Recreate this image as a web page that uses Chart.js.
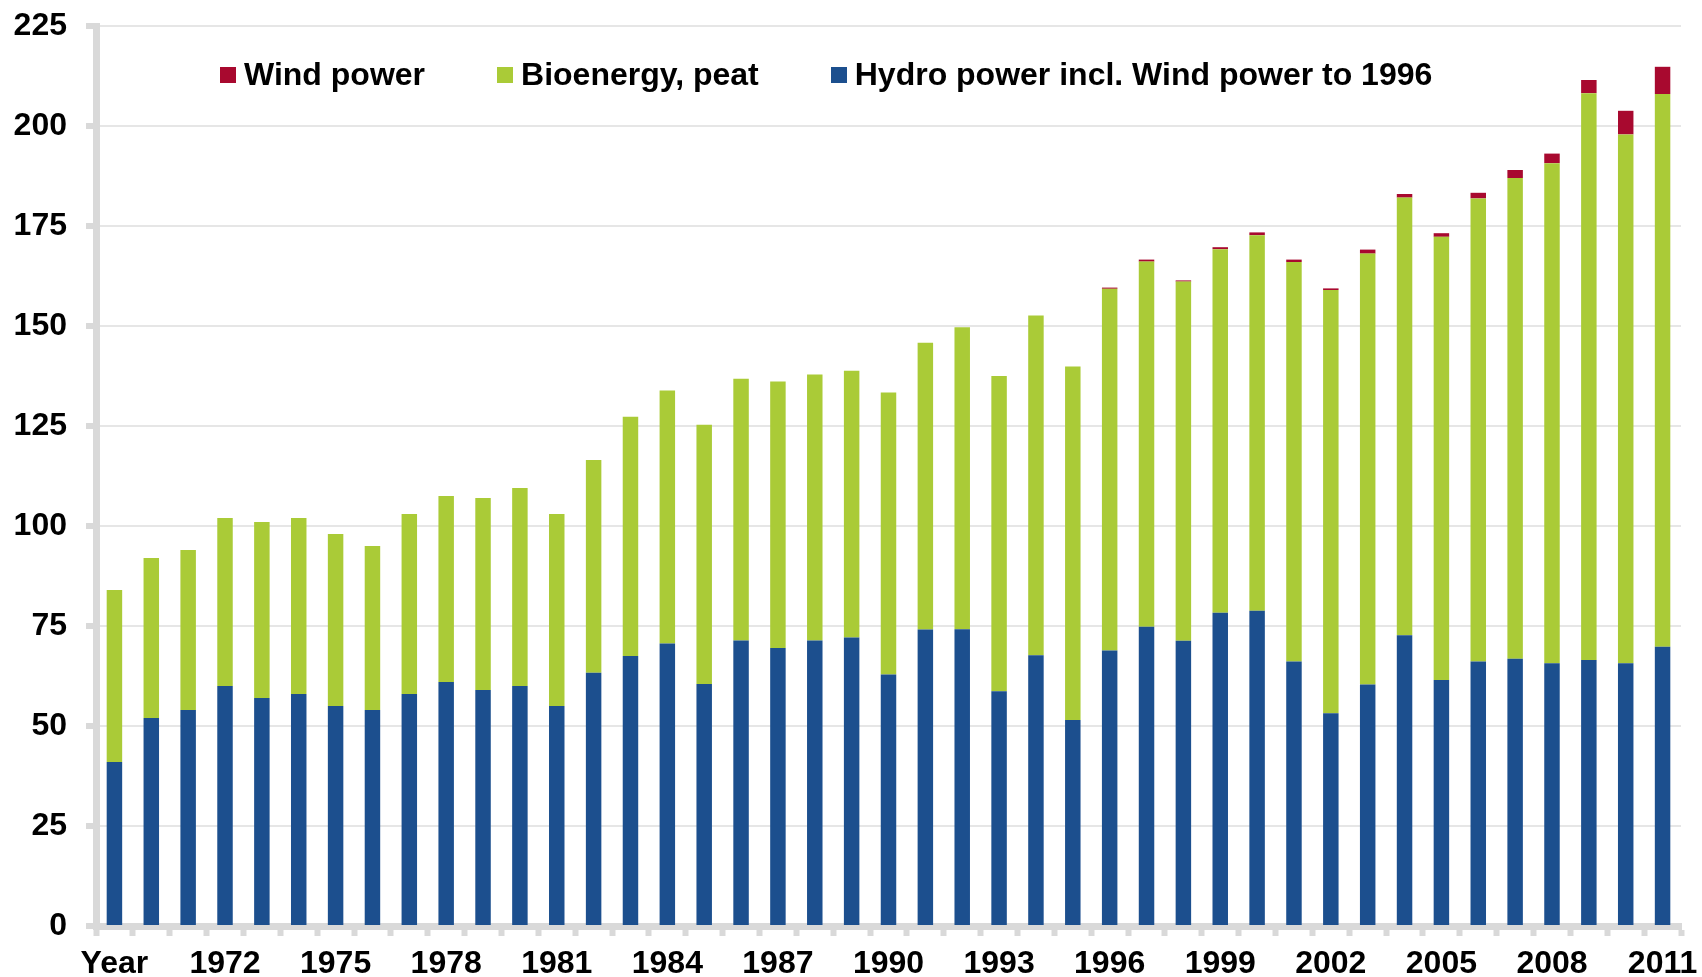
<!DOCTYPE html>
<html>
<head>
<meta charset="utf-8">
<script src="https://cdn.jsdelivr.net/npm/chart.js@4.4.1/dist/chart.umd.min.js"></script>
<style>
  html, body { margin: 0; padding: 0; background: #fff; }
  #wrap { position: relative; width: 1702px; height: 977px; }
  #legend {
    position: absolute; left: 220px; top: 56px; display: flex; align-items: center;
    font-family: "Liberation Sans", Arial, sans-serif; font-weight: bold; font-size: 32px; color: #000;
  }
  #legend .item { display: flex; align-items: center; margin-right: 72px; }
  #legend .box { width: 16px; height: 16px; margin-right: 8px; }
</style>
</head>
<body>
<div id="wrap">
  <canvas id="chart" width="1702" height="977"></canvas>
  <div id="legend"></div>
</div>
<script>
// data
const years = [1969, 1970, 1971, 1972, 1973, 1974, 1975, 1976, 1977, 1978, 1979, 1980, 1981,
  1982, 1983, 1984, 1985, 1986, 1987, 1988, 1989, 1990, 1991, 1992, 1993, 1994, 1995,
  1996, 1997, 1998, 1999, 2000, 2001, 2002, 2003, 2004, 2005, 2006, 2007, 2008, 2009, 2010, 2011];

const tickLabels = ['Year', '', '', '1972', '', '', '1975', '', '', '1978', '', '', '1981',
  '', '', '1984', '', '', '1987', '', '', '1990', '', '', '1993', '', '',
  '1996', '', '', '1999', '', '', '2002', '', '', '2005', '', '', '2008', '', '', '2011'];

const hydro = [41, 52, 54, 60, 57, 58, 55, 54, 58, 61, 59, 60, 55,
  63.3, 67.5, 70.6, 60.5, 71.4, 69.5, 71.4, 72.1, 62.9, 74.1, 74.2, 58.7, 67.7, 51.5,
  68.9, 74.8, 71.3, 78.3, 78.8, 66.1, 53.2, 60.4, 72.7, 61.5, 66.1, 66.8, 65.7, 66.5, 65.7, 69.8];

const bio = [43, 40, 40, 42, 44, 44, 43, 41, 45, 46.5, 48, 49.5, 48,
  53.2, 59.8, 63.3, 64.8, 65.4, 66.6, 66.5, 66.7, 70.5, 71.7, 75.5, 78.8, 84.9, 88.4,
  90.4, 91.3, 89.8, 90.9, 93.9, 99.9, 105.8, 107.7, 109.4, 110.8, 115.8, 120.2, 125.0, 141.7, 132.2, 138.2];

const wind = [0, 0, 0, 0, 0, 0, 0, 0, 0, 0, 0, 0, 0,
  0, 0, 0, 0, 0, 0, 0, 0, 0, 0, 0, 0, 0, 0,
  0.3, 0.5, 0.3, 0.5, 0.7, 0.6, 0.4, 1.0, 0.9, 0.9, 1.4, 2.0, 2.4, 3.3, 5.9, 6.8];

const yTicks = [0, 25, 50, 75, 100, 125, 150, 175, 200, 225];

const seriesNames = ['Hydro power incl. Wind power to 1996', 'Bioenergy, peat', 'Wind power'];
const colors = ['#1c4f8e', '#aacb37', '#a8092f'];

const axisGray = '#d9d9d9';
const font = { family: '"Liberation Sans", Arial, sans-serif', size: 32, weight: 'bold', lineHeight: 1.0 };

new Chart(document.getElementById('chart'), {
  type: 'bar',
  data: {
    labels: years.map(String),
    datasets: [
      { label: seriesNames[0], data: hydro, backgroundColor: colors[0] },
      { label: seriesNames[1], data: bio, backgroundColor: colors[1] },
      { label: seriesNames[2], data: wind, backgroundColor: colors[2] }
    ]
  },
  options: {
    responsive: false,
    animation: false,
    datasets: { bar: { barPercentage: 0.42, categoryPercentage: 1, borderWidth: 0 } },
    layout: { padding: { left: 14, right: 21, top: 26, bottom: 0 } },
    plugins: { legend: { display: false }, tooltip: { enabled: false } },
    scales: {
      x: {
        stacked: true,
        afterFit: s => { s.height = 51; s.paddingLeft = 0; s.paddingRight = 0; },
        grid: { offset: true, drawOnChartArea: false, drawTicks: true, tickLength: 10, tickColor: axisGray, tickWidth: 6 },
        border: { color: axisGray, width: 7 },
        ticks: {
          autoSkip: false, maxRotation: 0, minRotation: 0, padding: 12, color: '#000', font,
          callback: (v, i) => tickLabels[i]
        }
      },
      y: {
        stacked: true,
        min: 0, max: 225,
        afterBuildTicks: axis => { axis.ticks = yTicks.map(v => ({ value: v })); },
        afterFit: s => { s.width = 82; s.paddingTop = 0; s.paddingBottom = 0; },
        grid: { color: '#e6e6e6', lineWidth: 2, tickColor: axisGray, tickWidth: 6, tickLength: 10 },
        border: { color: axisGray, width: 7 },
        ticks: { padding: 19, color: '#000', font }
      }
    }
  }
});

// legend inside the plot, top row, reversed order as in the reference
const legend = document.getElementById('legend');
[2, 1, 0].forEach(i => {
  const item = document.createElement('div');
  item.className = 'item';
  item.innerHTML = '<span class="box" style="background:' + colors[i] + '"></span><span>' + seriesNames[i] + '</span>';
  legend.appendChild(item);
});
</script>
</body>
</html>
